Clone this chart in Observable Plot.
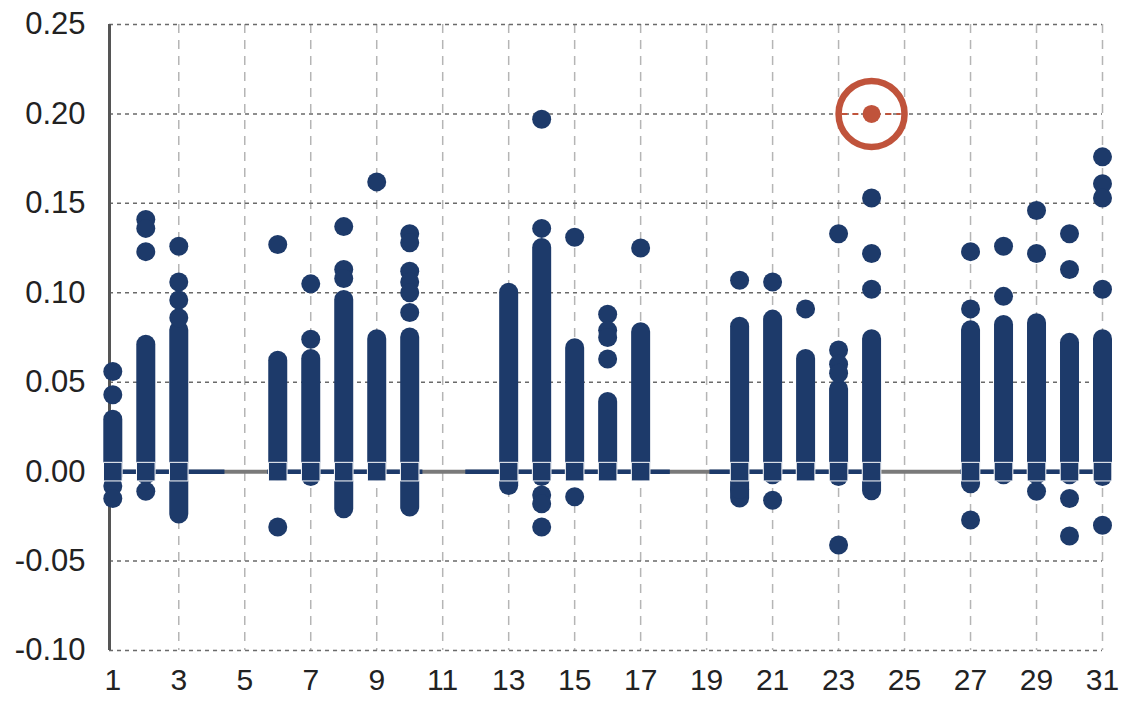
<!DOCTYPE html>
<html>
<head>
<meta charset="utf-8">
<script src="https://cdn.jsdelivr.net/npm/d3@7"></script>
<script src="https://cdn.jsdelivr.net/npm/@observablehq/plot@0.6"></script>
<style>
  html, body { margin: 0; padding: 0; background: #fff; }
  #chart svg { display: block; }
</style>
</head>
<body>
<div id="chart"></div>
<script>
// ---- data ----
const days       = [1, 2, 3, 6, 7, 8, 9, 10, 13, 14, 15, 16, 17, 20, 21, 22, 23, 24, 27, 28, 29, 30, 31];
// dense run of points for each day (bottom and top of the packed column)
const lowValues  = [-0.003, -0.002, -0.024, 0.000, -0.003, -0.021, 0.000, -0.020, -0.008, -0.003, 0.000, 0.000, 0.000, -0.015, -0.002, 0.000, -0.003, -0.011, -0.007, -0.002, -0.002, -0.002, -0.003];
const highValues = [0.029, 0.071, 0.079, 0.062, 0.063, 0.096, 0.074, 0.075, 0.100, 0.125, 0.069, 0.039, 0.078, 0.081, 0.085, 0.063, 0.046, 0.074, 0.079, 0.082, 0.083, 0.072, 0.074];
// isolated points
const extraDays   = [1, 1, 1, 1,
                     2, 2, 2, 2,
                     3, 3, 3, 3,
                     6, 6,
                     7, 7,
                     8, 8, 8,
                     9,
                     10, 10, 10, 10, 10, 10,
                     14, 14, 14, 14, 14,
                     15, 15,
                     16, 16, 16, 16,
                     17,
                     20, 20,
                     21, 21,
                     22,
                     23, 23, 23, 23, 23,
                     24, 24, 24,
                     27, 27, 27,
                     28, 28,
                     29, 29, 29,
                     30, 30, 30, 30,
                     31, 31, 31, 31, 31];
const extraValues = [0.056, 0.043, -0.008, -0.015,
                     0.141, 0.136, 0.123, -0.011,
                     0.126, 0.106, 0.096, 0.086,
                     0.127, -0.031,
                     0.105, 0.074,
                     0.137, 0.113, 0.108,
                     0.162,
                     0.133, 0.128, 0.112, 0.106, 0.100, 0.089,
                     0.197, 0.136, -0.013, -0.018, -0.031,
                     0.131, -0.014,
                     0.088, 0.079, 0.075, 0.063,
                     0.125,
                     0.107, -0.010,
                     0.106, -0.016,
                     0.091,
                     0.133, 0.068, 0.060, 0.055, -0.041,
                     0.153, 0.122, 0.102,
                     0.123, 0.091, -0.027,
                     0.126, 0.098,
                     0.146, 0.122, -0.011,
                     0.133, 0.113, -0.015, -0.036,
                     0.176, 0.161, 0.153, 0.102, -0.030];
// the circled point
const highlightDays   = [24];
const highlightValues = [0.200];
// dark parts of the zero line
const zeroRunStart = [0.9, 5.7, 11.7, 19.1, 26.7];
const zeroRunEnd   = [4.4, 10.4, 17.9, 24.3, 31.0];
// ticks
const xTicks = [1, 3, 5, 7, 9, 11, 13, 15, 17, 19, 21, 23, 25, 27, 29, 31];
const yTicks = [-0.10, -0.05, 0.00, 0.05, 0.10, 0.15, 0.20, 0.25];

// ---- styles / layout ----
const navy = "#1d3a6a";
const red = "#c0533b";
const xDomain = [0.9, 31];
const yDomain = [-0.10, 0.25];

const columns = days.map((d, i) => ({day: d, lo: lowValues[i], hi: highValues[i]}));
const extras = extraDays.map((d, i) => ({day: d, value: extraValues[i]}));
const highlight = highlightDays.map((d, i) => ({day: d, value: highlightValues[i]}));
const zeroRuns = zeroRunStart.map((s, i) => ({x1: s, x2: zeroRunEnd[i]}));

const chart = Plot.plot({
  width: 1128,
  height: 705,
  marginLeft: 109,
  marginRight: 26,
  marginTop: 24,
  marginBottom: 55,
  x: {domain: xDomain},
  y: {domain: yDomain},
  marks: [
    // grid
    Plot.ruleX(xTicks.filter(d => d > xDomain[0] + 0.5), {stroke: "#b5b5b5", strokeWidth: 1.5, strokeDasharray: "9,7"}),
    Plot.ruleY(yTicks, {stroke: "#6a6a6a", strokeWidth: 1.5, strokeDasharray: "4,4"}),
    // y axis line
    Plot.ruleX([xDomain[0]], {stroke: "#555", strokeWidth: 3}),
    // zero line
    Plot.ruleY([0], {stroke: "#7a7a7a", strokeWidth: 4}),
    Plot.ruleY(zeroRuns, {y: () => 0, x1: "x1", x2: "x2", stroke: navy, strokeWidth: 4.5}),
    // dense columns
    Plot.ruleX(columns, {x: "day", y1: "lo", y2: "hi", stroke: navy, strokeWidth: 19, strokeLinecap: "round"}),
    // isolated points
    Plot.dot(extras, {x: "day", y: "value", r: 9.5, fill: navy}),
    // zero markers
    Plot.dot(days, {x: d => d, y: () => 0, symbol: "square", r: 10.5, fill: navy, stroke: "white", strokeWidth: 1}),
    // highlighted point
    Plot.ruleY(highlight, {y: "value", x1: d => d.day - 0.9, x2: d => d.day + 0.9, stroke: red, strokeWidth: 2, strokeDasharray: "6,5"}),
    Plot.dot(highlight, {x: "day", y: "value", r: 9, fill: red}),
    Plot.dot(highlight, {x: "day", y: "value", r: 33, stroke: red, strokeWidth: 6.5, fill: "none"}),
    // axes
    Plot.axisY({ticks: yTicks, tickFormat: d => d.toFixed(2), tickSize: 0, tickPadding: 24,
                fontSize: 31, fontFamily: "Liberation Sans, Arial, sans-serif", fill: "#222"}),
    Plot.axisX({ticks: xTicks, tickFormat: d => String(d), tickSize: 0, tickPadding: 18,
                fontSize: 30, fontFamily: "Liberation Sans, Arial, sans-serif", fill: "#222"})
  ]
});
document.getElementById("chart").appendChild(chart);
</script>
</body>
</html>
